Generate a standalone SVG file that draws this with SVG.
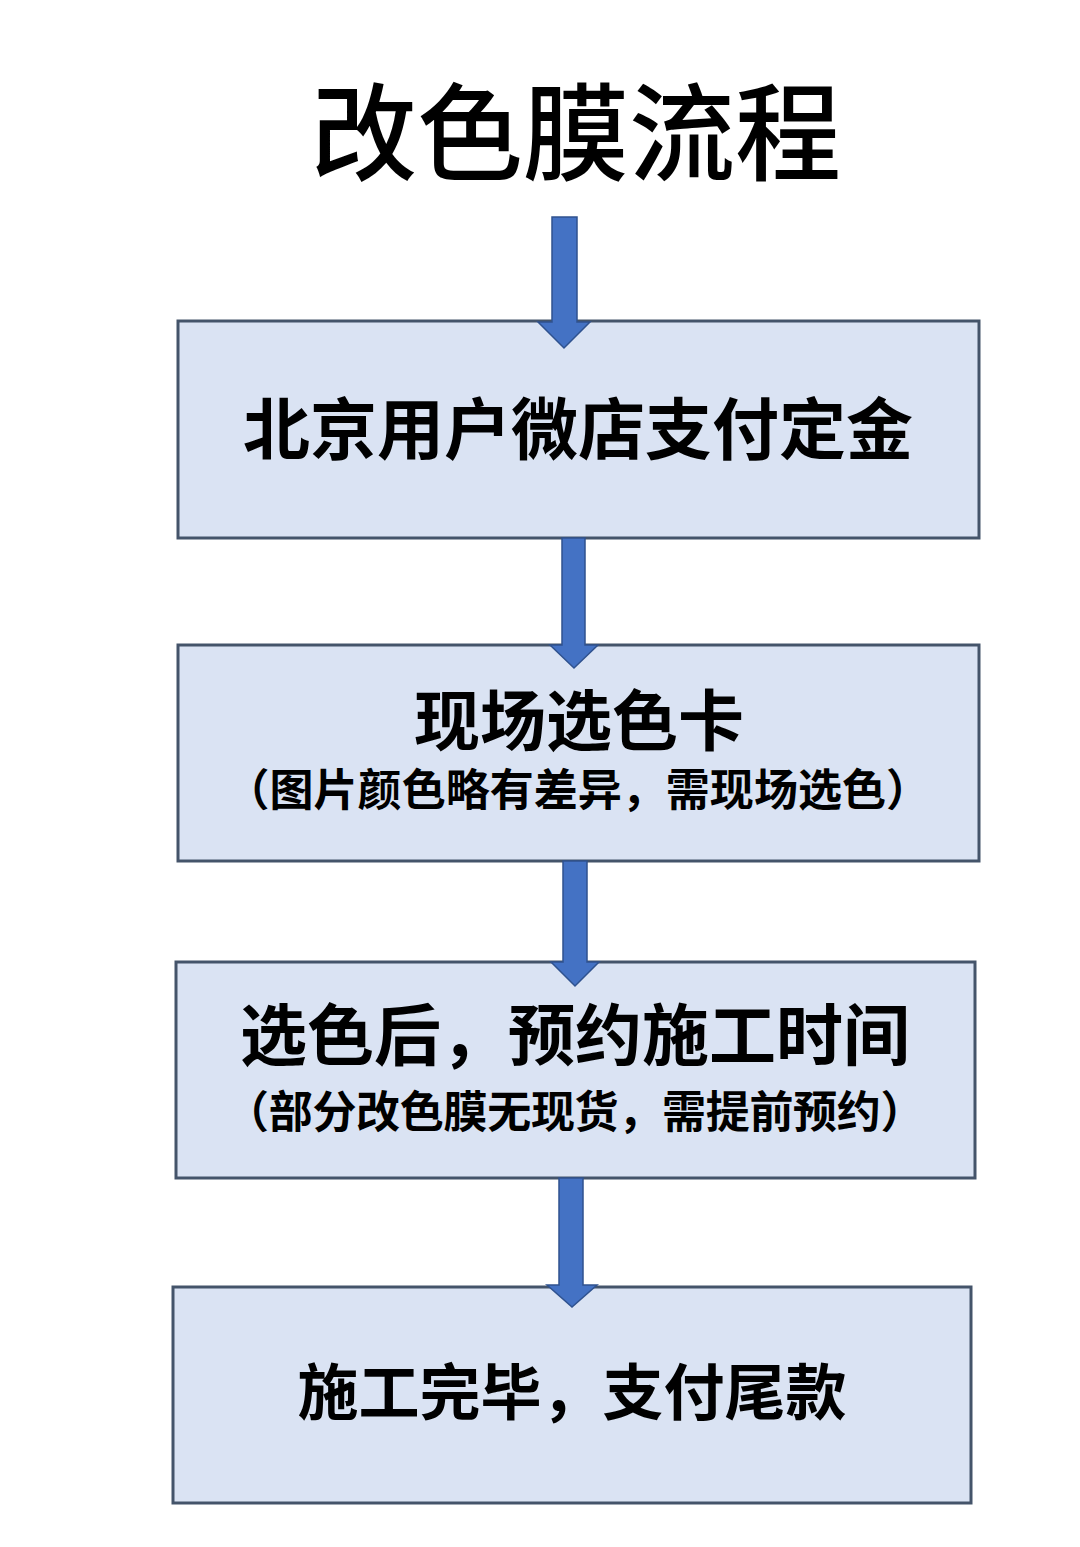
<svg xmlns="http://www.w3.org/2000/svg" width="1080" height="1547" viewBox="0 0 1080 1547">
<style>
.box{fill:#dae3f3;stroke:#44546a;stroke-width:3}
.arr{fill:#4472c4;stroke:#2f528f;stroke-width:1.5}
text{font-family:"Noto Sans CJK SC","Noto Sans CJK JP",sans-serif;fill:#000;text-anchor:middle}
.t{font-size:67px;font-weight:bold}
.s{font-size:44px;font-weight:bold;letter-spacing:0.5px}
</style>
<rect width="1080" height="1547" fill="#fff"/>
<text x="576" y="172" style="font-size:106px;font-weight:500">改色膜流程</text>
<g id="n1"><rect class="box" x="178" y="321" width="801" height="217"/><text class="t" x="578" y="454">北京用户微店支付定金</text></g>
<g id="n2"><rect class="box" x="178" y="645" width="801" height="216"/><text class="t" x="579" y="745" style="font-size:66px">现场选色卡</text><text class="s" x="578" y="806" textLength="705" lengthAdjust="spacing">（图片颜色略有差异，需现场选色）</text></g>
<g id="n3"><rect class="box" x="176" y="962" width="799" height="216"/><text class="t" x="575" y="1060">选色后，预约施工时间</text><text class="s" x="575" y="1128" textLength="700" lengthAdjust="spacing">（部分改色膜无现货，需提前预约）</text></g>
<g id="n4"><rect class="box" x="173" y="1287" width="798" height="216"/><text class="t" x="572" y="1415" style="font-size:61px">施工完毕，支付尾款</text></g>
<g id="connectors">
<path class="arr" d="M552,217 H577 V322 H590 L564,348 L538,322 H552 Z"/>
<path class="arr" d="M562,538 H585 V645 H598 L574,668 L550,645 H562 Z"/>
<path class="arr" d="M563,861 H587 V962 H599 L575,986 L551,962 H563 Z"/>
<path class="arr" d="M559,1178 H583 V1285 H597 L572,1307 L547,1285 H559 Z"/>
</g>
</svg>
